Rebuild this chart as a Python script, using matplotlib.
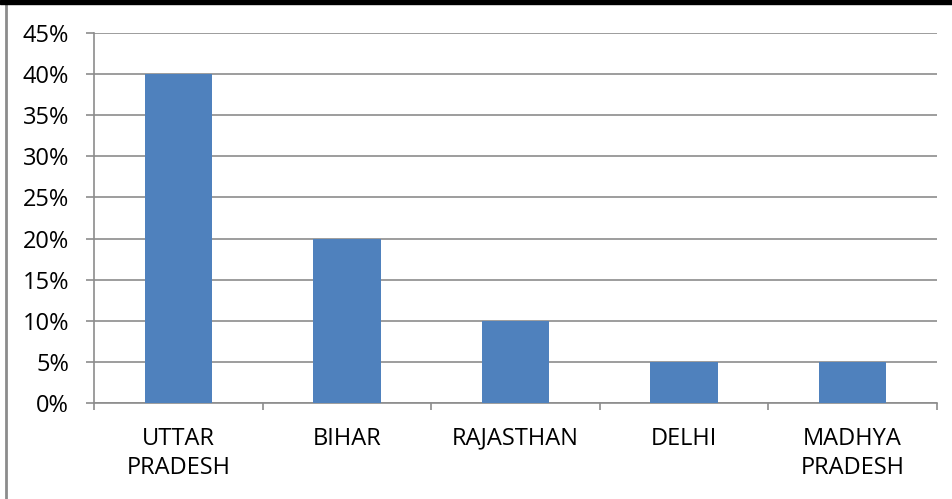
import numpy as np
import matplotlib.pyplot as plt
from matplotlib.patches import Rectangle
from matplotlib.lines import Line2D
from matplotlib.ticker import FixedLocator, NullFormatter

plt.rcParams['font.family'] = ['Open Sans', 'DejaVu Sans']

states = ['UTTAR\nPRADESH', 'BIHAR', 'RAJASTHAN', 'DELHI', 'MADHYA\nPRADESH']
share = [40, 20, 10, 5, 5]
yticks = [0, 5, 10, 15, 20, 25, 30, 35, 40, 45]

fig = plt.figure(figsize=(9.53, 4.99), dpi=100)
ax = fig.add_axes([0.0986, 0.1924, 0.8846, 0.7415])

x = np.arange(len(states))
ax.bar(x, share, width=0.4, color='#4F81BD', zorder=3)

ax.set_xlim(-0.5, len(states) - 0.5)
ax.set_ylim(0, 45)

ax.set_yticks(yticks)
ax.set_yticklabels([f'{v}%' for v in yticks], fontsize=17)
ax.yaxis.grid(True, color='#8c8c8c', linewidth=1.2, zorder=0)

# category labels in the middle, tick marks on the boundaries
ax.set_xticks(x)
ax.set_xticklabels(states, fontsize=17, linespacing=1.3)
ax.tick_params(axis='x', which='major', length=0, pad=17)
ax.xaxis.set_minor_locator(FixedLocator(np.arange(-0.5, len(states), 1)))
ax.xaxis.set_minor_formatter(NullFormatter())
ax.tick_params(axis='x', which='minor', length=5, width=1.2, color='#8c8c8c')
ax.tick_params(axis='y', length=5.8, width=1.2, color='#8c8c8c', pad=12)

for side in ['top', 'right']:
    ax.spines[side].set_visible(False)
for side in ['left', 'bottom']:
    ax.spines[side].set_color('#8c8c8c')
    ax.spines[side].set_linewidth(1.2)

# frame: dark strip along the top, thin grey rule at the left
fig.add_artist(Rectangle((0, 1 - 4 / 499), 1, 4 / 499, transform=fig.transFigure,
                         color='black', zorder=10))
fig.add_artist(Line2D([6 / 953, 6 / 953], [0, 1 - 4 / 499], transform=fig.transFigure,
                      color='#8c8c8c', linewidth=2))

fig.savefig('out.png', dpi=100)
